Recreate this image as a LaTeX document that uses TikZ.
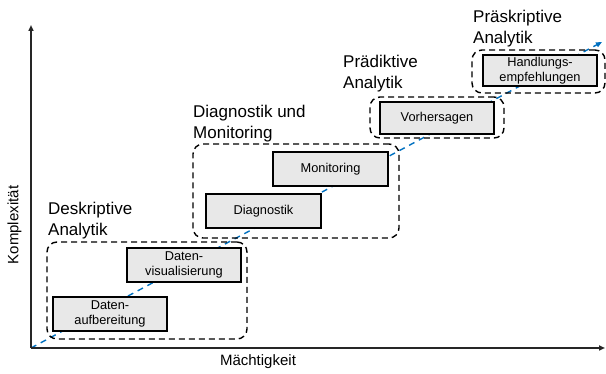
\documentclass[tikz,border=0pt]{standalone}
\usepackage{fontspec}
\setmainfont{Liberation Sans}
\usetikzlibrary{arrows.meta}
\definecolor{boxfill}{RGB}{232,232,232}
\definecolor{trendblue}{RGB}{0,112,192}
\definecolor{axisgray}{RGB}{38,38,38}
\tikzset{
  stagebox/.style={draw=black, fill=boxfill, line width=1.4pt, inner sep=0pt,
    minimum width=114pt, minimum height=33pt, align=center,
    font=\fontsize{12.8}{15.5}\selectfont},
  groupframe/.style={draw=black, line width=1.4pt, rounded corners=10pt,
    dash pattern=on 6pt off 4pt, inner sep=0pt},
  grouplabel/.style={anchor=north west, inner sep=0pt, align=left,
    font=\fontsize{17}{21}\selectfont},
  axisline/.style={draw=axisgray, line width=1.6pt,
    -{Triangle[length=6pt,width=5pt]}},
  trendline/.style={draw=trendblue, line width=1.4pt, dash pattern=on 6pt off 5pt,
    -{Triangle[length=6pt,width=5pt]}},
  axislabel/.style={inner sep=0pt, font=\fontsize{15}{18}\selectfont}
}
\begin{document}
\begin{tikzpicture}[x=1pt,y=-1pt]
\useasboundingbox (0,0) rectangle (606,374);

% axes and the trend line
\coordinate (O) at (31,348);
\coordinate (ytop) at (31,25);
\coordinate (xend) at (605,348);
\coordinate (trend) at (602,42);
\draw[trendline] (O) -- (trend);
\draw[axisline] (O) -- (ytop);
\draw[axisline] (O) -- (xend);
\node[axislabel, rotate=90] (ylab) at (14.5,225) {Komplexität};
\node[axislabel] (xlab) at (258,362) {Mächtigkeit};

% dashed groups
\node[groupframe, minimum width=200pt, minimum height=97pt] (g1) at (147,290.5) {};
\node[groupframe, minimum width=206pt, minimum height=94pt] (g2) at (296,191) {};
\node[groupframe, minimum width=134pt, minimum height=41pt] (g3) at (437,117.5) {};
\node[groupframe, minimum width=133pt, minimum height=43pt] (g4) at (538.5,71.5) {};

% group labels
\node[grouplabel] (l1) at (48,201.5) {Deskriptive\\Analytik};
\node[grouplabel] (l2) at (193,105) {Diagnostik und\\Monitoring};
\node[grouplabel] (l3) at (343,55) {Prädiktive\\Analytik};
\node[grouplabel] (l4) at (473,10) {Präskriptive\\Analytik};

% stages
\node[stagebox, minimum height=34pt] (dat) at (110,314) {Daten-\\aufbereitung};
\node[stagebox, minimum height=34pt] (vis) at (184,265) {Daten-\\visualisierung};
\node[stagebox, minimum width=115pt, minimum height=34pt] (dia) at (263.5,211) {Diagnostik};
\node[stagebox, minimum width=115pt, minimum height=34pt] (mon) at (330.5,169) {Monitoring};
\node[stagebox, minimum height=32pt] (vor) at (437,118) {Vorhersagen};
\node[stagebox, minimum height=31pt] (han) at (540,70.5) {Handlungs-\\empfehlungen};
\end{tikzpicture}
\end{document}
